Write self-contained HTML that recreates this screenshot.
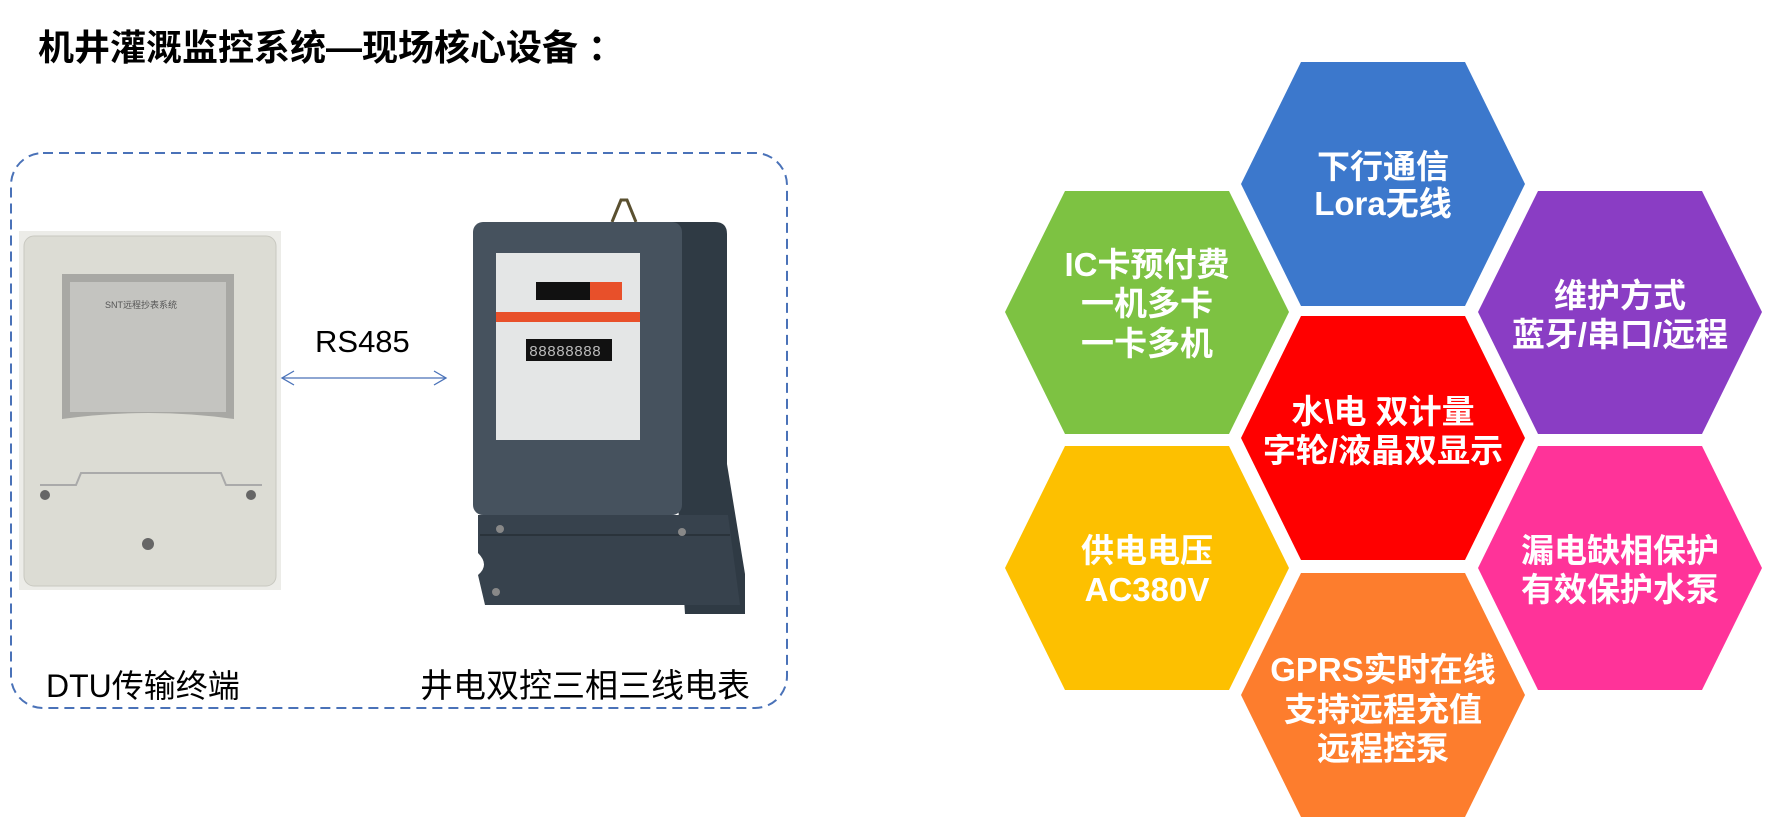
<!DOCTYPE html>
<html><head><meta charset="utf-8"><style>
html,body{margin:0;padding:0;background:#fff;width:1765px;height:819px;overflow:hidden}
svg{display:block}
.t{font-family:"Liberation Sans","Noto Sans CJK SC",sans-serif}
</style></head><body>
<svg width="1765" height="819" viewBox="0 0 1765 819" xmlns="http://www.w3.org/2000/svg">
<text class="t" x="38" y="60" font-size="36" font-weight="bold" fill="#000">机井灌溉监控系统—现场核心设备 ：</text>
<rect x="11" y="153" width="776" height="555" rx="32" fill="none" stroke="#4a72b8" stroke-width="2" stroke-dasharray="10,6"/>
<!-- DTU -->
<rect x="19" y="231" width="262" height="359" fill="#ecece8"/>
<rect x="24" y="236" width="252" height="350" rx="10" fill="#dcdcd4" stroke="#c8c8c0"/>
<path d="M62 274 h172 v145 q-85 -12 -172 0 z" fill="#a8a8a4"/>
<rect x="70" y="282" width="156" height="130" fill="#c4c4c0"/>
<text class="t" x="105" y="308" font-size="9" fill="#555">SNT远程抄表系统</text>
<path d="M40 485 h36 l5 -12 h140 l5 12 h36" fill="none" stroke="#aaa" stroke-width="2"/>
<circle cx="45" cy="495" r="5" fill="#666"/><circle cx="251" cy="495" r="5" fill="#666"/><circle cx="148" cy="544" r="6" fill="#666"/>
<!-- RS485 -->
<text class="t" x="315" y="352" font-size="31" fill="#000">RS485</text>
<line x1="282" y1="378" x2="446" y2="378" stroke="#4a72b8" stroke-width="1.3"/>
<path d="M294 371 L282 378 L294 385 M434 371 L446 378 L434 385" fill="none" stroke="#4a72b8" stroke-width="1.3"/>
<!-- meter -->
<path d="M612 222 l9 -22 h6 l9 22" fill="none" stroke="#5a5030" stroke-width="3"/>
<path d="M660 222 h55 q12 0 12 12 v230 l18 110 v40 h-60 z" fill="#2f3a44"/>
<path d="M478 515 h250 l12 90 h-255 l-7 -30 q12 -10 0 -22 z" fill="#37424d"/>
<line x1="480" y1="535" x2="730" y2="535" stroke="#2a333b" stroke-width="2"/>
<rect x="473" y="222" width="209" height="293" rx="10" fill="#46525e"/>
<rect x="496" y="253" width="144" height="187" fill="#e4e6e6"/>
<rect x="536" y="282" width="56" height="18" fill="#111"/><rect x="590" y="282" width="32" height="18" fill="#e8502a"/>
<rect x="496" y="312" width="144" height="10" fill="#e8502a"/>
<rect x="526" y="339" width="86" height="22" fill="#111"/>
<text x="529" y="356" font-family="Liberation Mono" font-size="15" fill="#bbb">88888888</text>
<circle cx="500" cy="529" r="4" fill="#888"/><circle cx="682" cy="532" r="4" fill="#888"/><circle cx="496" cy="592" r="4" fill="#888"/>
<text class="t" x="46" y="697" font-size="32" fill="#000">DTU传输终端</text>
<text class="t" x="420" y="697" font-size="33" fill="#000">井电双控三相三线电表</text>
<!-- hexes -->
<g class="t" font-size="33" font-weight="bold" fill="#fff" text-anchor="middle">
<polygon points="1241,184 1301,62 1465,62 1525,184 1465,306 1301,306" fill="#3c78cc"/>
<text x="1383" y="178">下行通信</text><text x="1383" y="215">Lora无线</text>
<polygon points="1005,312 1065,191 1229,191 1289,312 1229,434 1065,434" fill="#7dc242"/>
<text x="1147" y="276">IC卡预付费</text><text x="1147" y="315">一机多卡</text><text x="1147" y="355">一卡多机</text>
<polygon points="1478,312 1538,191 1702,191 1762,312 1702,434 1538,434" fill="#8a3dc4"/>
<text x="1620" y="307">维护方式</text><text x="1620" y="346">蓝牙/串口/远程</text>
<polygon points="1241,438 1301,316 1465,316 1525,438 1465,560 1301,560" fill="#ff0000"/>
<text x="1383" y="423">水\电 双计量</text><text x="1383" y="462">字轮/液晶双显示</text>
<polygon points="1005,568 1065,446 1229,446 1289,568 1229,690 1065,690" fill="#fdc000"/>
<text x="1147" y="562">供电电压</text><text x="1147" y="601">AC380V</text>
<polygon points="1478,568 1538,446 1702,446 1762,568 1702,690 1538,690" fill="#ff3399"/>
<text x="1620" y="562">漏电缺相保护</text><text x="1620" y="601">有效保护水泵</text>
<polygon points="1241,695 1301,573 1465,573 1525,695 1465,817 1301,817" fill="#fd7d2d"/>
<text x="1383" y="681">GPRS实时在线</text><text x="1383" y="721">支持远程充值</text><text x="1383" y="760">远程控泵</text>
</g>
</svg>
</body></html>
